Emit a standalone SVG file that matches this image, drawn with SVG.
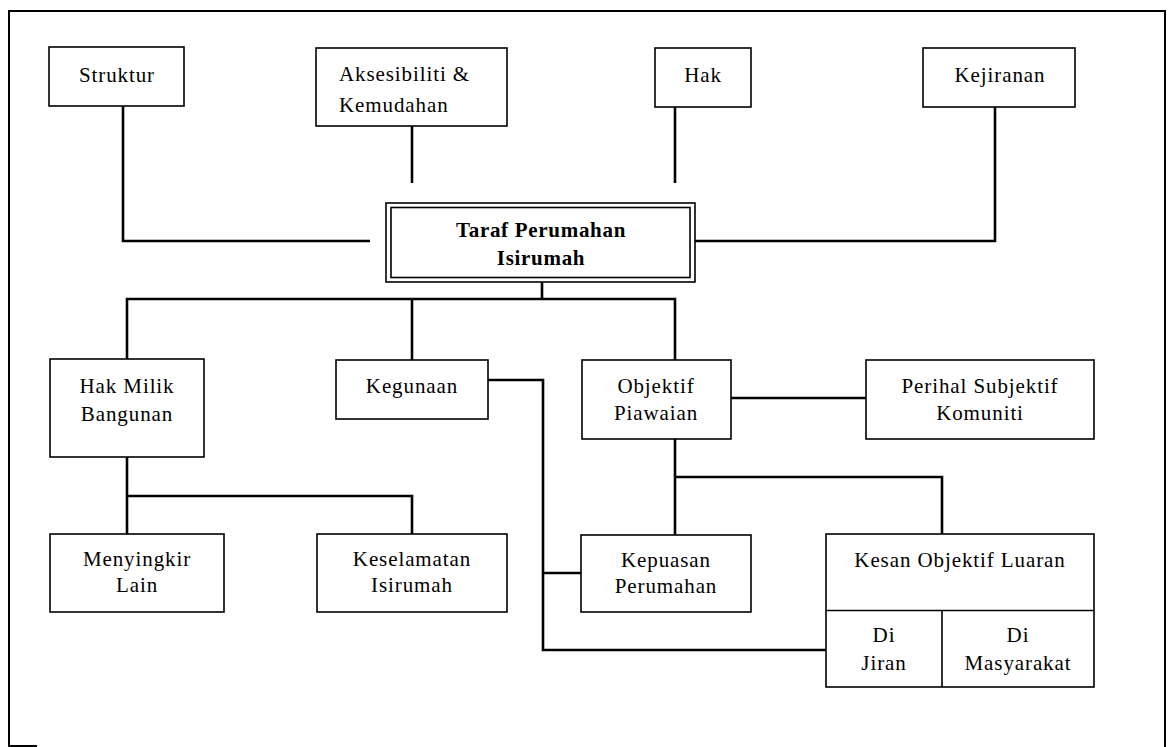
<svg xmlns="http://www.w3.org/2000/svg" width="1168" height="747" viewBox="0 0 1168 747">
<defs>
<style>
.box{fill:#fff;stroke:#000;stroke-width:1.6}
.t{font-family:"Liberation Serif","Times New Roman",serif;font-size:21px;letter-spacing:0.9px;fill:#000;text-anchor:middle}
.tl{text-anchor:start}
.b{font-weight:bold;letter-spacing:0.7px}
.c{fill:none;stroke:#000;stroke-width:2.6}
.frame{fill:none;stroke:#000;stroke-width:2}
</style>
</defs>
<rect width="1168" height="747" fill="#fff"/>
<path class="frame" d="M37 746 H9 V11 H1165 V747"/>
<g id="connectors">
<path class="c" d="M123 106 V241 H370"/>
<path class="c" d="M412 126 V183"/>
<path class="c" d="M675 107 V183"/>
<path class="c" d="M995 107 V241 H695"/>
<path class="c" d="M542 282 V299"/>
<path class="c" d="M127 359 V299 H675 V360"/>
<path class="c" d="M412 299 V360"/>
<path class="c" d="M127 457 V534"/>
<path class="c" d="M127 496 H412 V534"/>
<path class="c" d="M488 380 H543 V650 H826"/>
<path class="c" d="M543 573 H581"/>
<path class="c" d="M731 398 H866"/>
<path class="c" d="M675 439 V535"/>
<path class="c" d="M675 477 H942 V534"/>
</g>
<g id="struktur">
<rect class="box" x="49" y="47" width="135" height="59"/>
<text class="t" x="117" y="82">Struktur</text>
</g>
<g id="aksesibiliti">
<rect class="box" x="316" y="48" width="191" height="78"/>
<text class="t tl" x="339" y="81">Aksesibiliti &amp;</text>
<text class="t tl" x="339" y="112">Kemudahan</text>
</g>
<g id="hak">
<rect class="box" x="655" y="48" width="96" height="59"/>
<text class="t" x="703" y="82">Hak</text>
</g>
<g id="kejiranan">
<rect class="box" x="923" y="48" width="152" height="59"/>
<text class="t" x="1000" y="82">Kejiranan</text>
</g>
<g id="taraf">
<rect class="box" x="386" y="203" width="309" height="79"/>
<rect class="box" x="391" y="207.5" width="299" height="70"/>
<text class="t b" x="541" y="237">Taraf Perumahan</text>
<text class="t b" x="541" y="265">Isirumah</text>
</g>
<g id="hakmilik">
<rect class="box" x="50" y="359" width="154" height="98"/>
<text class="t" x="127" y="393">Hak Milik</text>
<text class="t" x="127" y="421">Bangunan</text>
</g>
<g id="kegunaan">
<rect class="box" x="336" y="360" width="152" height="59"/>
<text class="t" x="412" y="393">Kegunaan</text>
</g>
<g id="objektif">
<rect class="box" x="582" y="360" width="149" height="79"/>
<text class="t" x="656" y="393">Objektif</text>
<text class="t" x="656" y="420">Piawaian</text>
</g>
<g id="perihal">
<rect class="box" x="866" y="360" width="228" height="79"/>
<text class="t" x="980" y="393">Perihal Subjektif</text>
<text class="t" x="980" y="420">Komuniti</text>
</g>
<g id="menyingkir">
<rect class="box" x="50" y="534" width="174" height="78"/>
<text class="t" x="137" y="566">Menyingkir</text>
<text class="t" x="137" y="592">Lain</text>
</g>
<g id="keselamatan">
<rect class="box" x="317" y="534" width="190" height="78"/>
<text class="t" x="412" y="566">Keselamatan</text>
<text class="t" x="412" y="592">Isirumah</text>
</g>
<g id="kepuasan">
<rect class="box" x="581" y="535" width="170" height="77"/>
<text class="t" x="666" y="567">Kepuasan</text>
<text class="t" x="666" y="593">Perumahan</text>
</g>
<g id="kesan">
<rect class="box" x="826" y="534" width="268" height="153"/>
<path class="box" d="M826 610.5 H1094 M942 610.5 V687"/>
<text class="t" x="960" y="567">Kesan Objektif Luaran</text>
<text class="t" x="884" y="642">Di</text>
<text class="t" x="884" y="670">Jiran</text>
<text class="t" x="1018" y="642">Di</text>
<text class="t" x="1018" y="670">Masyarakat</text>
</g>
</svg>
